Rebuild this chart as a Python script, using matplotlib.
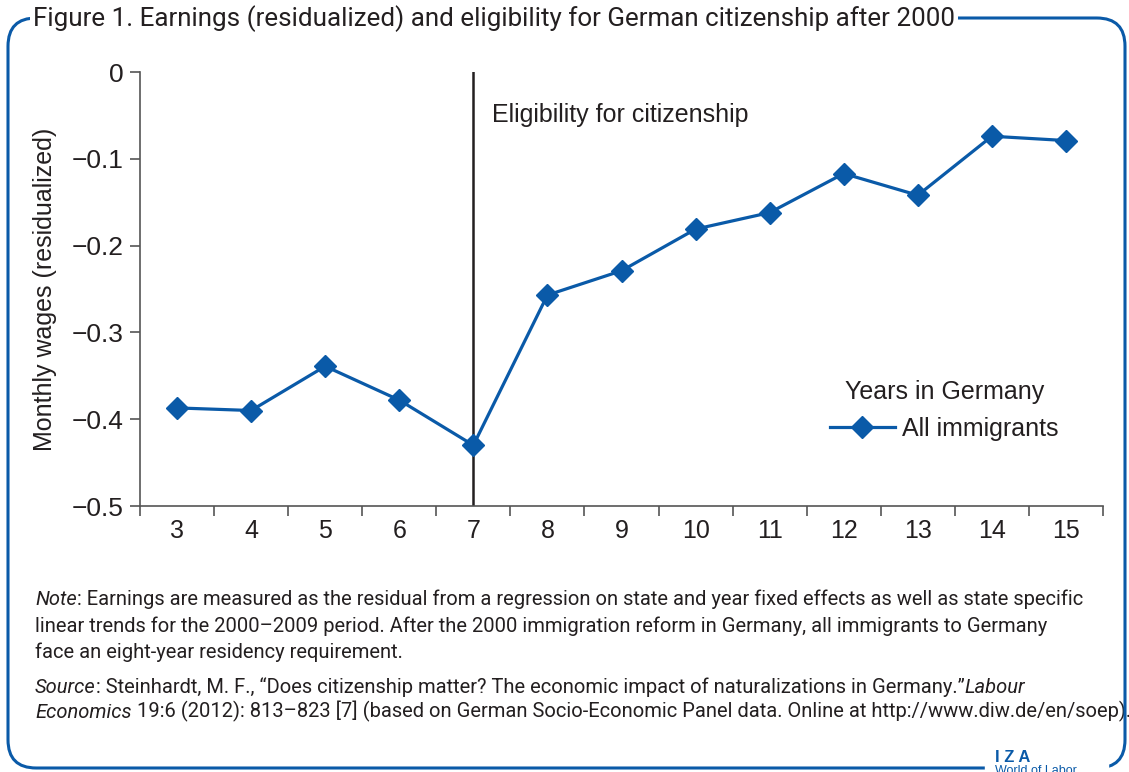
import matplotlib
matplotlib.use("Agg")
import matplotlib.pyplot as plt
from matplotlib.patches import FancyBboxPatch, Rectangle

# data
years = [3, 4, 5, 6, 7, 8, 9, 10, 11, 12, 13, 14, 15]
wages = [-0.387, -0.390, -0.339, -0.378, -0.430, -0.257, -0.229,
         -0.181, -0.162, -0.117, -0.142, -0.074, -0.079]
y_ticks = [0, -0.1, -0.2, -0.3, -0.4, -0.5]
y_tick_labels = ["0", "\u22120.1", "\u22120.2", "\u22120.3", "\u22120.4", "\u22120.5"]
eligible_year = 7

BLUE = "#0a5aa8"
TEXT = "#231f20"
narrow = ["Roboto", "DejaVu Sans"]
plt.rcParams["font.family"] = ["Liberation Sans", "DejaVu Sans"]

W, H = 1129, 772
fig = plt.figure(figsize=(W / 100, H / 100), dpi=100)
ax = fig.add_axes([140 / W, 1 - 506 / H, (1103 - 140) / W, (506 - 72) / H])

ax.plot(years, wages, color=BLUE, lw=2.3, marker="D", ms=11,
        label="All immigrants", zorder=3)
ax.axvline(eligible_year, color=TEXT, lw=1.8, zorder=2)
ax.text(eligible_year + 0.25, -0.05, "Eligibility for citizenship",
        fontsize=18, color=TEXT, va="center", ha="left")

ax.set_xlim(years[0] - 0.5, years[-1] + 0.5)
ax.set_ylim(-0.5, 0)
ax.set_xticks(years)
ax.set_xticklabels([str(y) for y in years])
ax.set_xticks([y - 0.5 for y in years] + [years[-1] + 0.5], minor=True)
ax.tick_params(axis="x", which="major", length=0, pad=9, labelsize=18, labelcolor=TEXT)
ax.tick_params(axis="x", which="minor", length=7, width=1.2, color="#555555", direction="out")
ax.set_yticks(y_ticks)
ax.set_yticklabels(y_tick_labels)
ax.tick_params(axis="y", length=7, width=1.2, color="#555555", pad=5,
               labelsize=19, labelcolor=TEXT)
for s in ["top", "right"]:
    ax.spines[s].set_visible(False)
for s in ["left", "bottom"]:
    ax.spines[s].set_color("#555555")
    ax.spines[s].set_linewidth(1.2)
ax.set_ylabel("Monthly wages (residualized)", fontsize=18, color=TEXT, labelpad=10)

leg = ax.legend(loc="center left", bbox_to_anchor=(0.693, 0.22), frameon=False,
                title="Years in Germany", fontsize=18, title_fontsize=18,
                handlelength=2.6, handletextpad=0.3, labelcolor=TEXT)
leg.get_title().set_color(TEXT)

# rounded frame
frame = FancyBboxPatch((8 / W, 4 / H), (1125 - 8) / W, (754 - 4) / H,
                       boxstyle="round,pad=0,rounding_size=0.025",
                       transform=fig.transFigure, fill=False, ec=BLUE, lw=2.2,
                       mutation_aspect=W / H)
fig.add_artist(frame)
fig.add_artist(Rectangle((985 / W, 0), (1108 - 985) / W, 12 / H,
                         transform=fig.transFigure, color="white", zorder=5))

fig.text(33 / W, 1 - 19 / H, "Figure 1. Earnings (residualized) and eligibility for German citizenship after 2000",
         fontsize=18.7, family=narrow, color=TEXT, va="center", ha="left",
         bbox=dict(fc="white", ec="none", pad=2), zorder=6)


def chain_line(x, y, parts, size=14.5):
    prev = None
    for txt, italic in parts:
        style = "italic" if italic else "normal"
        if prev is None:
            prev = fig.text(x, y, txt, fontsize=size, family=narrow, style=style,
                            color=TEXT, va="baseline", ha="left")
        else:
            prev = ax.annotate(txt, xy=(1, 0), xycoords=prev, fontsize=size,
                               family=narrow, style=style, color=TEXT,
                               va="bottom", ha="left", annotation_clip=False)


x0 = 35 / W
chain_line(x0, 1 - 605 / H, [("Note", True), (": Earnings are measured as the residual from a regression on state and year fixed effects as well as state specific", False)])
chain_line(x0, 1 - 632 / H, [("linear trends for the 2000\u20132009 period. After the 2000 immigration reform in Germany, all immigrants to Germany", False)])
chain_line(x0, 1 - 658 / H, [("face an eight-year residency requirement.", False)])
chain_line(x0, 1 - 693 / H, [("Source", True), (": Steinhardt, M. F., \u201cDoes citizenship matter? The economic impact of naturalizations in Germany.\u201d", False), ("Labour", True)])
chain_line(x0, 1 - 718 / H, [("Economics", True), (" 19:6 (2012): 813\u2013823 [7] (based on German Socio-Economic Panel data. Online at http://www.diw.de/en/soep).", False)])

fig.text(995 / W, 1 - 757 / H, "I Z A", fontsize=12, fontweight="bold", color=BLUE,
         va="center", ha="left", zorder=6)
fig.text(995 / W, 1 - 771 / H, "World of Labor", fontsize=9, color=BLUE,
         va="center", ha="left", zorder=6)

fig.savefig("out.png", dpi=100)
